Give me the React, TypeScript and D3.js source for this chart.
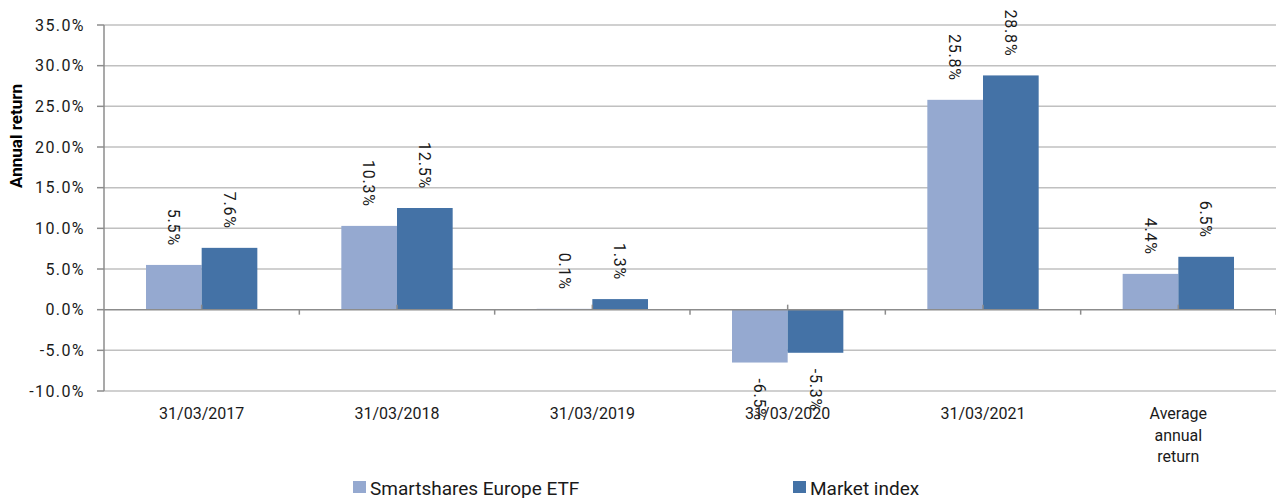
import React from "react";
import * as d3 from "d3";

const categories = ["31/03/2017", "31/03/2018", "31/03/2019", "31/03/2020", "31/03/2021", "Average annual return"];
const categoryLabelLines = [["31/03/2017"], ["31/03/2018"], ["31/03/2019"], ["31/03/2020"], ["31/03/2021"], ["Average", "annual", "return"]];
const seriesNames = ["Smartshares Europe ETF", "Market index"];
const etfValues = [5.5, 10.3, 0.1, -6.5, 25.8, 4.4];
const indexValues = [7.6, 12.5, 1.3, -5.3, 28.8, 6.5];
const yTicks = [-10, -5, 0, 5, 10, 15, 20, 25, 30, 35];
const colors = ["#95A9D0", "#4472A6"];

const W = 1276;
const H = 498;
const FONT = "Roboto, 'Liberation Sans', Arial, sans-serif";

export default function App() {
  const left = 104;
  const right = 1276;
  const y = d3.scaleLinear().domain([-10, 35]).range([391, 25]);
  const x0 = d3.scaleBand<string>().domain(categories).range([left, right]).paddingInner(0.43).paddingOuter(0.215);
  const x1 = d3.scaleBand<string>().domain(seriesNames).range([0, x0.bandwidth()]);
  const step = x0.step();
  const seriesValues = [etfValues, indexValues];
  const y0 = y(0);

  return (
    <svg width={W} height={H} style={{ position: "absolute", left: 0, top: 0, background: "#fff" }} fontFamily={FONT}>
      {/* gridlines */}
      {yTicks.filter((t) => t !== 0).map((t) => (
        <line key={"g" + t} x1={left} x2={right} y1={y(t)} y2={y(t)} stroke="#C0C0C0" strokeWidth={1.5} />
      ))}
      {/* bars */}
      {categories.map((c, i) => (
        <g key={c}>
          {seriesNames.map((s, j) => {
            const v = seriesValues[j][i];
            const bx = (x0(c) as number) + (x1(s) as number);
            const top = y(Math.max(0, v));
            const h = Math.abs(y(v) - y0);
            return <rect key={s} x={bx} y={top} width={x1.bandwidth()} height={h} fill={colors[j]} />;
          })}
        </g>
      ))}
      {/* y axis line and ticks */}
      <line x1={left} x2={left} y1={y(35)} y2={y(-10)} stroke="#8C8C8C" strokeWidth={1.5} />
      {yTicks.map((t) => (
        <g key={"t" + t}>
          <line x1={left - 7} x2={left} y1={y(t)} y2={y(t)} stroke="#8C8C8C" strokeWidth={1.5} />
          <text x={85} y={y(t)} dy="0.36em" textAnchor="end" fontSize={16} letterSpacing={1.4} fill="#1a1a1a">
            {t.toFixed(1) + "%"}
          </text>
        </g>
      ))}
      {/* zero line */}
      <line x1={left} x2={right} y1={y0} y2={y0} stroke="#8C8C8C" strokeWidth={1.5} />
      {categories.map((c, i) => (
        <g key={"ct" + c}>
          <line x1={(x0(c) as number) - step * 0.215 + step} x2={(x0(c) as number) - step * 0.215 + step} y1={y0} y2={y0 + 5} stroke="#8C8C8C" strokeWidth={1.5} />
          <line x1={(x0(c) as number) + x0.bandwidth() / 2} x2={(x0(c) as number) + x0.bandwidth() / 2} y1={y0 - 5} y2={y0} stroke="#8C8C8C" strokeWidth={1.5} />
        </g>
      ))}
      {/* data labels */}
      {categories.map((c, i) => (
        <g key={"dl" + c}>
          {seriesNames.map((s, j) => {
            const v = seriesValues[j][i];
            const cx = (x0(c) as number) + (x1(s) as number) + x1.bandwidth() / 2;
            const pos = v >= 0;
            const ly = pos ? y(v) - 19 : y(v) + 16;
            return (
              <text
                key={s}
                transform={`translate(${cx},${ly}) rotate(90)`}
                textAnchor={pos ? "end" : "start"}
                dy="0.36em"
                fontSize={16}
                letterSpacing={0.8}
                fill="#1a1a1a"
              >
                {v.toFixed(1) + "%"}
              </text>
            );
          })}
        </g>
      ))}
      {/* x category labels */}
      {categories.map((c, i) => (
        <text key={"xl" + c} x={(x0(c) as number) + x0.bandwidth() / 2} y={419} textAnchor="middle" fontSize={16} fill="#1a1a1a">
          {categoryLabelLines[i].map((ln, k) => (
            <tspan key={k} x={(x0(c) as number) + x0.bandwidth() / 2} dy={k === 0 ? 0 : 21.5}>
              {ln}
            </tspan>
          ))}
        </text>
      ))}
      {/* y title */}
      <text transform={`translate(22,136) rotate(-90)`} textAnchor="middle" fontSize={17} fontWeight="bold" fill="#000">
        Annual return
      </text>
      {/* legend */}
      {seriesNames.map((s, j) => {
        const lx = j === 0 ? 353 : 793;
        return (
          <g key={"lg" + s}>
            <rect x={lx} y={481} width={13} height={12} fill={colors[j]} />
            <text x={lx + 17} y={494.5} fontSize={19} fill="#1a1a1a">
              {s}
            </text>
          </g>
        );
      })}
    </svg>
  );
}
